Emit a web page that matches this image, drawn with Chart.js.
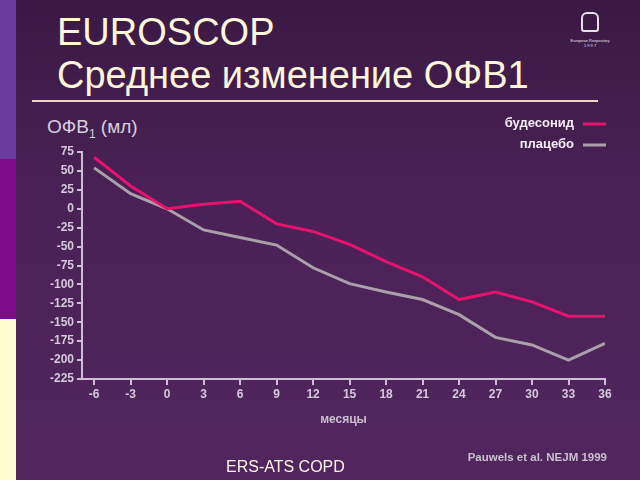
<!DOCTYPE html>
<html>
<head>
<meta charset="utf-8">
<script src="https://cdn.jsdelivr.net/npm/chart.js@4"></script>
<style>
  html, body { margin: 0; padding: 0; }
  body {
    width: 640px; height: 480px; position: relative; overflow: hidden;
    background: linear-gradient(#3b1944, #4a2156 40%, #52255e);
    font-family: "Liberation Sans", Arial, sans-serif;
  }
  .stripe { position: absolute; left: 0; width: 16px; }
  .title { position: absolute; left: 57px; color: #fdf6d8; font-size: 38px; line-height: 1; white-space: nowrap; }
  .rule { position: absolute; left: 32px; top: 100px; width: 566px; height: 2px; background: #f2d6cc; }
  .ylabel { position: absolute; left: 47px; top: 116px; color: #d6cede; font-size: 19px; white-space: nowrap; }
  .ylabel sub { font-size: 12px; }
  .note { position: absolute; right: 33px; top: 451px; color: #c9c0cf; font-size: 11.5px; font-weight: bold; }
  .foot { position: absolute; left: 226px; top: 458px; color: #fdf6e8; font-size: 16px; }
  .logo { position: absolute; left: 568px; top: 12px; width: 44px; text-align: center; color: #e8e0ea; font-size: 4px; line-height: 5px; }
  .logo .lung { width: 18px; height: 20px; margin: 0 auto 6px; border: 2px solid #e8e0ea; border-radius: 6px 6px 3px 3px; box-sizing: border-box; }
  canvas { position: absolute; left: 0; top: 0; }
</style>
</head>
<body>
<div class="stripe" style="top:0;height:159px;background:#6c3b9e"></div>
<div class="stripe" style="top:159px;height:160px;background:#7e0a8c"></div>
<div class="stripe" style="top:319px;height:161px;background:#fffcd2"></div>
<div class="title" style="top:13px">EUROSCOP</div>
<div class="title" style="top:56px">Среднее изменение ОФВ1</div>
<div class="rule"></div>
<div class="logo"><div class="lung"></div>European Respiratory<br>1 9 9 7</div>
<div class="ylabel">ОФВ<sub>1</sub> (мл)</div>
<canvas id="chart" width="640" height="480"></canvas>
<div class="note">Pauwels et al. NEJM 1999</div>
<div class="foot">ERS-ATS COPD</div>
<script>
const months = [-6, -3, 0, 3, 6, 9, 12, 15, 18, 21, 24, 27, 30, 33, 36];
const budesonide = [68, 30, 0, 6, 10, -20, -30, -47, -70, -90, -120, -110, -123, -142, -142];
const placebo = [54, 20, 0, -28, -38, -48, -78, -99, -110, -120, -140, -170, -180, -200, -178];
const yTicks = [75, 50, 25, 0, -25, -50, -75, -100, -125, -150, -175, -200, -225];

const axisColor = '#cdbfd6';
const tickFont = { family: 'Liberation Sans', size: 12, weight: 'bold' };

const legendPlugin = {
  id: 'rightLegend',
  afterDraw(chart) {
    const c = chart.ctx;
    c.save();
    c.font = 'bold 13px "Liberation Sans"';
    c.textAlign = 'right';
    c.textBaseline = 'middle';
    chart.data.datasets.forEach((ds, i) => {
      const y = 123 + i * 21;
      c.fillStyle = '#f4ecf4';
      c.fillText(ds.label, 574, y);
      c.strokeStyle = ds.borderColor;
      c.lineWidth = 3;
      c.beginPath();
      c.moveTo(583, y + 1);
      c.lineTo(606, y + 1);
      c.stroke();
    });
    c.restore();
  }
};

new Chart(document.getElementById('chart'), {
  type: 'line',
  data: {
    datasets: [
      { label: 'будесонид', data: months.map((m, i) => ({ x: m, y: budesonide[i] })),
        borderColor: '#e8126e', borderWidth: 3, pointRadius: 0, tension: 0 },
      { label: 'плацебо', data: months.map((m, i) => ({ x: m, y: placebo[i] })),
        borderColor: '#a9a0ab', borderWidth: 3, pointRadius: 0, tension: 0 }
    ]
  },
  options: {
    responsive: false,
    animation: false,
    layout: { padding: { left: 20, top: 152, right: 35, bottom: 0 } },
    plugins: { legend: { display: false }, tooltip: { enabled: false } },
    scales: {
      x: {
        type: 'linear', min: -7, max: 36,
        afterBuildTicks: s => { s.ticks = months.map(v => ({ value: v })); },
        afterFit: s => { s.height = 101; },
        grid: { drawOnChartArea: false, drawTicks: true, tickLength: 6, color: axisColor, lineWidth: 2 },
        border: { color: axisColor, width: 2 },
        ticks: { color: '#d4cadb', font: tickFont, padding: 2, autoSkip: false, maxRotation: 0 },
        title: { display: true, text: 'месяцы', color: '#c9bfd1', font: tickFont, padding: { top: 0, bottom: 53 } }
      },
      y: {
        min: -225, max: 75,
        afterBuildTicks: s => { s.ticks = yTicks.map(v => ({ value: v })); },
        afterFit: s => { s.width = 62; },
        grid: { drawOnChartArea: false, drawTicks: true, tickLength: 5, color: axisColor, lineWidth: 2 },
        border: { color: axisColor, width: 2 },
        ticks: { color: '#d4cadb', font: tickFont, padding: 3, autoSkip: false }
      }
    }
  },
  plugins: [legendPlugin]
});
</script>
</body>
</html>
